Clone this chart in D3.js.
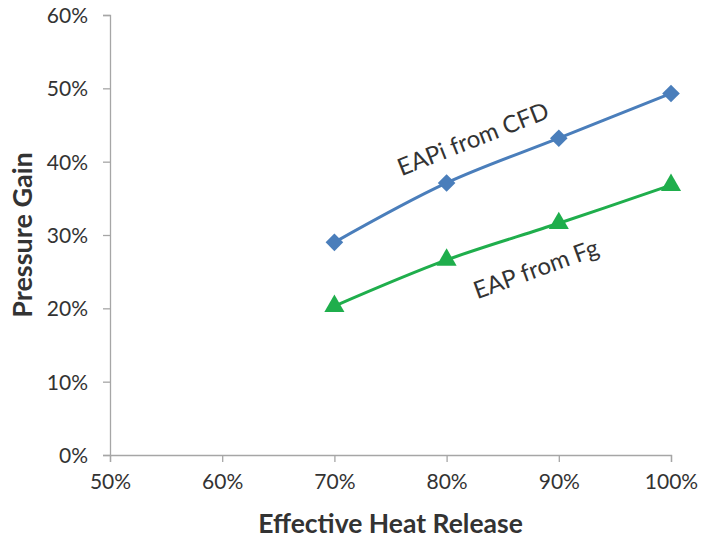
<meta charset="utf-8">
<html>
<head>
    <script src="https://d3js.org/d3.v7.min.js"></script>
    <style>
        body { margin: 0; background: #fff; }
        text { font-family: Lato, "Open Sans", sans-serif; fill: #333; }
    </style>
</head>
<body>
    <div id="chart"></div>
    <script>
        // data
        const heatRelease = [0.7, 0.8, 0.9, 1.0];
        const eapiCFD = [0.290, 0.371, 0.432, 0.493];
        const eapFg = [0.203, 0.266, 0.316, 0.368];
        const xTicks = [0.5, 0.6, 0.7, 0.8, 0.9, 1.0];
        const yTicks = [0, 0.1, 0.2, 0.3, 0.4, 0.5, 0.6];

        const W = 702, H = 541;
        const margin = { top: 15, right: 31, bottom: 86, left: 110 },
            width = W - margin.left - margin.right,
            height = H - margin.top - margin.bottom;

        const svg = d3.select("#chart").append("svg")
            .attr("width", W).attr("height", H)
            .append("g")
            .attr("transform", "translate(" + margin.left + "," + margin.top + ")");

        const x = d3.scaleLinear().domain([0.5, 1.0]).range([0, width]);
        const y = d3.scaleLinear().domain([0, 0.6]).range([height, 0]);
        const pct = d3.format(".0%");

        // axes
        const xAxis = svg.append("g").attr("transform", `translate(0,${height})`)
            .call(d3.axisBottom(x).tickValues(xTicks).tickFormat(pct).tickSize(7).tickPadding(12));
        const yAxis = svg.append("g")
            .call(d3.axisLeft(y).tickValues(yTicks).tickFormat(pct).tickSize(7).tickPadding(15));
        [xAxis, yAxis].forEach(a => {
            a.selectAll("path, line").attr("stroke", "#a6a6a6").attr("stroke-width", 1.3);
            a.selectAll("text").style("font-size", "21px").attr("fill", "#404040");
        });
        yAxis.selectAll("text").attr("dy", "0.36em");

        // axis titles
        svg.append("text")
            .attr("x", width / 2).attr("y", height + 78)
            .attr("text-anchor", "middle")
            .style("font-size", "26.5px").style("font-weight", "bold").attr("fill", "#1a1a1a")
            .text("Effective Heat Release");
        svg.append("text")
            .attr("transform", `translate(${-78},${height / 2}) rotate(-90)`)
            .attr("text-anchor", "middle")
            .style("font-size", "27px").style("font-weight", "bold").attr("fill", "#1a1a1a")
            .text("Pressure Gain");

        // series
        const series = [
            { name: "EAPi from CFD", values: eapiCFD, color: "#4a7ebb", symbol: "diamond" },
            { name: "EAP from Fg", values: eapFg, color: "#1fae4c", symbol: "triangle" }
        ];

        const line = d3.line()
            .x(d => x(d[0])).y(d => y(d[1]))
            .curve(d3.curveCatmullRom.alpha(0.5));

        series.forEach(s => {
            const pts = heatRelease.map((h, i) => [h, s.values[i]]);
            svg.append("path")
                .datum(pts)
                .attr("fill", "none")
                .attr("stroke", s.color)
                .attr("stroke-width", 3)
                .attr("d", line);

            const sym = s.symbol === "diamond"
                ? d3.symbol().type(d3.symbolSquare).size(155)
                : d3.symbol().type(d3.symbolTriangle).size(175);
            svg.append("g").selectAll("path")
                .data(pts).enter().append("path")
                .attr("d", sym)
                .attr("fill", s.color)
                .attr("transform", d => `translate(${x(d[0])},${y(d[1])})` + (s.symbol === "diamond" ? " rotate(45)" : ""));
        });

        // in-chart labels
        svg.append("text")
            .attr("transform", `translate(${473 - margin.left},${139 - margin.top}) rotate(-21.5)`)
            .attr("text-anchor", "middle").attr("dy", "0.35em")
            .style("font-size", "24px").attr("fill", "#111")
            .text("EAPi from CFD");
        svg.append("text")
            .attr("transform", `translate(${536 - margin.left},${269 - margin.top}) rotate(-20)`)
            .attr("text-anchor", "middle").attr("dy", "0.35em")
            .style("font-size", "24px").attr("fill", "#111")
            .text("EAP from Fg");
    </script>
</body>
</html>
